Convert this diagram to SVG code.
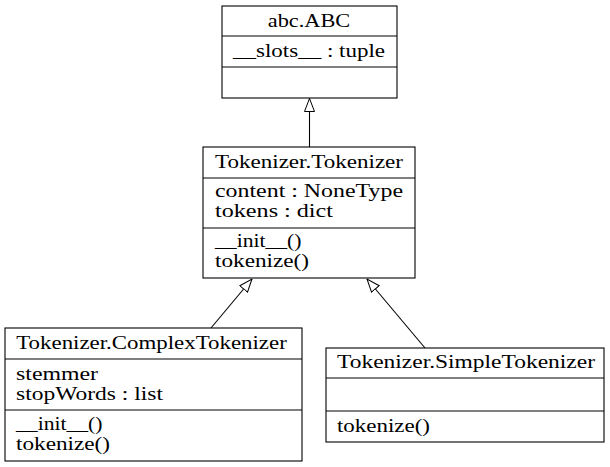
<svg xmlns="http://www.w3.org/2000/svg" width="610" height="467" viewBox="0 0 610 467">
<defs>
<style>
rect.box{fill:#fff;stroke:#000;stroke-width:1.1}
line.div{stroke:#000;stroke-width:1.1}
text{font-family:"Liberation Serif","Times New Roman",serif;font-size:19.5px;fill:#000}
text.c{text-anchor:middle}
.edge{stroke:#000;stroke-width:1.1;fill:none}
</style>
<marker id="inh" viewBox="0 0 14 11" refX="13.5" refY="5.5" markerWidth="14" markerHeight="11" markerUnits="userSpaceOnUse" orient="auto">
<path d="M0.5,0.5 L13.5,5.5 L0.5,10.5 Z" fill="#fff" stroke="#000" stroke-width="1"/>
</marker>
</defs>
<rect width="610" height="467" fill="#fff"/>
<g id="edges">
<line class="edge" x1="309.5" y1="147" x2="309.5" y2="98.5" marker-end="url(#inh)"/>
<line class="edge" x1="211" y1="328" x2="252" y2="279" marker-end="url(#inh)"/>
<line class="edge" x1="425" y1="348" x2="367" y2="279" marker-end="url(#inh)"/>
</g>
<g id="abc_ABC">
<rect class="box" x="222" y="6" width="175" height="92"/>
<line class="div" x1="222" y1="36" x2="397" y2="36"/>
<line class="div" x1="222" y1="67" x2="397" y2="67"/>
<text class="c" x="309" y="26.5" textLength="82.5" lengthAdjust="spacingAndGlyphs">abc.ABC</text>
<text x="233" y="57" textLength="152" lengthAdjust="spacingAndGlyphs">__slots__ : tuple</text>
</g>
<g id="Tokenizer_Tokenizer">
<rect class="box" x="203" y="147" width="212" height="131"/>
<line class="div" x1="203" y1="178" x2="415" y2="178"/>
<line class="div" x1="203" y1="228" x2="415" y2="228"/>
<text class="c" x="309" y="168" textLength="188" lengthAdjust="spacingAndGlyphs">Tokenizer.Tokenizer</text>
<text x="215" y="197" textLength="188" lengthAdjust="spacingAndGlyphs">content : NoneType</text>
<text x="215" y="217" textLength="118" lengthAdjust="spacingAndGlyphs">tokens : dict</text>
<text x="215" y="247" textLength="86.5" lengthAdjust="spacingAndGlyphs">__init__()</text>
<text x="215" y="267" textLength="94" lengthAdjust="spacingAndGlyphs">tokenize()</text>
</g>
<g id="Tokenizer_ComplexTokenizer">
<rect class="box" x="5" y="328" width="297" height="133"/>
<line class="div" x1="5" y1="359" x2="302" y2="359"/>
<line class="div" x1="5" y1="410" x2="302" y2="410"/>
<text class="c" x="151.5" y="348.5" textLength="270.5" lengthAdjust="spacingAndGlyphs">Tokenizer.ComplexTokenizer</text>
<text x="16" y="380" textLength="82" lengthAdjust="spacingAndGlyphs">stemmer</text>
<text x="16" y="400" textLength="147" lengthAdjust="spacingAndGlyphs">stopWords : list</text>
<text x="16" y="430" textLength="86.5" lengthAdjust="spacingAndGlyphs">__init__()</text>
<text x="16" y="450" textLength="94" lengthAdjust="spacingAndGlyphs">tokenize()</text>
</g>
<g id="Tokenizer_SimpleTokenizer">
<rect class="box" x="326" y="348" width="278" height="94"/>
<line class="div" x1="326" y1="378" x2="604" y2="378"/>
<line class="div" x1="326" y1="411" x2="604" y2="411"/>
<text class="c" x="466" y="367.5" textLength="258" lengthAdjust="spacingAndGlyphs">Tokenizer.SimpleTokenizer</text>
<text x="337" y="432" textLength="93" lengthAdjust="spacingAndGlyphs">tokenize()</text>
</g>
</svg>
